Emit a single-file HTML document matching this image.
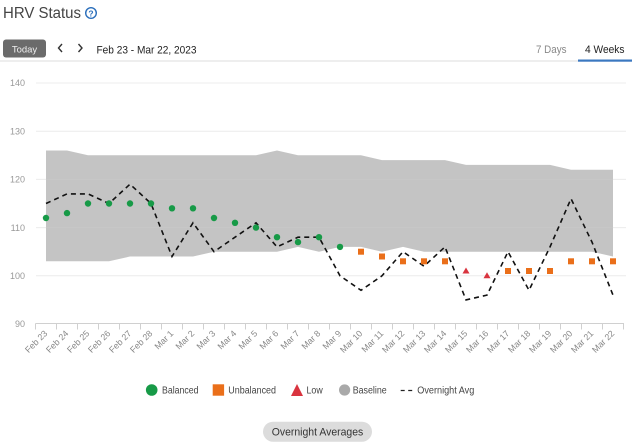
<!DOCTYPE html>
<html><head><meta charset="utf-8"><style>
html,body{margin:0;padding:0;background:#fff;}
svg{display:block;font-family:"Liberation Sans",Arial,sans-serif;}
</style></head><body>
<svg width="640" height="448" viewBox="0 0 640 448" xmlns="http://www.w3.org/2000/svg">
<rect width="640" height="448" fill="#fff"/>
<!-- header -->
<text x="3" y="18" font-size="15.5" fill="#444" textLength="78" lengthAdjust="spacingAndGlyphs">HRV Status</text>
<circle cx="91" cy="13" r="5.3" fill="none" stroke="#2a6ebb" stroke-width="1.4"/>
<text x="91" y="16.3" font-size="8.5" font-weight="bold" fill="#2a6ebb" text-anchor="middle">?</text>
<rect x="3" y="39.5" width="43" height="18" rx="3" fill="#6b6b6b"/>
<text x="24.5" y="52.5" font-size="9.5" fill="#eee" text-anchor="middle">Today</text>
<polyline points="62,44 58.5,48 62,52" fill="none" stroke="#333" stroke-width="1.4"/>
<polyline points="78.5,44 82,48 78.5,52" fill="none" stroke="#333" stroke-width="1.4"/>
<text x="96.5" y="53.3" font-size="11.2" fill="#222" textLength="100" lengthAdjust="spacingAndGlyphs">Feb 23 - Mar 22, 2023</text>
<text x="536" y="53" font-size="11" fill="#888" textLength="30.5" lengthAdjust="spacingAndGlyphs">7 Days</text>
<text x="585" y="53" font-size="11" fill="#222" textLength="39.5" lengthAdjust="spacingAndGlyphs">4 Weeks</text>
<line x1="0" y1="61" x2="632" y2="61" stroke="#dcdcdc" stroke-width="1"/>
<rect x="578" y="59.5" width="54" height="2.2" fill="#3b78c0"/>

<!-- gridlines -->
<g stroke="#ececec" stroke-width="1">
<line x1="36" y1="83" x2="626" y2="83"/>
<line x1="36" y1="131.2" x2="626" y2="131.2"/>
<line x1="36" y1="179.4" x2="626" y2="179.4"/>
<line x1="36" y1="227.6" x2="626" y2="227.6"/>
<line x1="36" y1="275.8" x2="626" y2="275.8"/>
</g>
<g font-size="9" fill="#999" text-anchor="end">
<text x="25" y="86.2">140</text>
<text x="25" y="134.4">130</text>
<text x="25" y="182.6">120</text>
<text x="25" y="230.8">110</text>
<text x="25" y="279">100</text>
<text x="25" y="327.2">90</text>
</g>

<!-- band -->
<polygon fill="#c4c4c4" points="46,150.5 67,150.5 88,155.3 109,155.3 130,155.3 151,155.3 172,155.3 193,155.3 214,155.3 235,155.3 256,155.3 277,150.5 298,155.3 319,155.3 340,155.3 361,155.3 382,160.1 403,160.1 424,160.1 445,160.1 466,164.9 487,164.9 508,164.9 529,164.9 550,164.9 571,169.8 592,169.8 613,169.8 613,256.5 592,251.7 571,251.7 550,251.7 529,251.7 508,251.7 487,251.7 466,251.7 445,251.7 424,251.7 403,246.9 382,251.7 361,246.9 340,246.9 319,251.7 298,246.9 277,251.7 256,251.7 235,251.7 214,251.7 193,256.5 172,256.5 151,256.5 130,256.5 109,261.3 88,261.3 67,261.3 46,261.3"/>
<g stroke="#cbcbcb" stroke-width="0.8" opacity="0.6">
<line x1="46" y1="179.4" x2="613" y2="179.4"/>
<line x1="46" y1="227.6" x2="613" y2="227.6"/>
</g>

<!-- axis -->
<line x1="35.5" y1="323.5" x2="624" y2="323.5" stroke="#d0d0d0" stroke-width="1"/>
<g stroke="#d0d0d0" stroke-width="1">
<line x1="35.5" y1="323.5" x2="35.5" y2="329.5"/><line x1="56.5" y1="323.5" x2="56.5" y2="329.5"/><line x1="77.5" y1="323.5" x2="77.5" y2="329.5"/><line x1="98.5" y1="323.5" x2="98.5" y2="329.5"/><line x1="119.5" y1="323.5" x2="119.5" y2="329.5"/><line x1="140.5" y1="323.5" x2="140.5" y2="329.5"/><line x1="161.5" y1="323.5" x2="161.5" y2="329.5"/><line x1="182.5" y1="323.5" x2="182.5" y2="329.5"/><line x1="203.5" y1="323.5" x2="203.5" y2="329.5"/><line x1="224.5" y1="323.5" x2="224.5" y2="329.5"/><line x1="245.5" y1="323.5" x2="245.5" y2="329.5"/><line x1="266.5" y1="323.5" x2="266.5" y2="329.5"/><line x1="287.5" y1="323.5" x2="287.5" y2="329.5"/><line x1="308.5" y1="323.5" x2="308.5" y2="329.5"/><line x1="329.5" y1="323.5" x2="329.5" y2="329.5"/><line x1="350.5" y1="323.5" x2="350.5" y2="329.5"/><line x1="371.5" y1="323.5" x2="371.5" y2="329.5"/><line x1="392.5" y1="323.5" x2="392.5" y2="329.5"/><line x1="413.5" y1="323.5" x2="413.5" y2="329.5"/><line x1="434.5" y1="323.5" x2="434.5" y2="329.5"/><line x1="455.5" y1="323.5" x2="455.5" y2="329.5"/><line x1="476.5" y1="323.5" x2="476.5" y2="329.5"/><line x1="497.5" y1="323.5" x2="497.5" y2="329.5"/><line x1="518.5" y1="323.5" x2="518.5" y2="329.5"/><line x1="539.5" y1="323.5" x2="539.5" y2="329.5"/><line x1="560.5" y1="323.5" x2="560.5" y2="329.5"/><line x1="581.5" y1="323.5" x2="581.5" y2="329.5"/><line x1="602.5" y1="323.5" x2="602.5" y2="329.5"/><line x1="623.5" y1="323.5" x2="623.5" y2="329.5"/>
</g>
<g font-size="8.8" fill="#888" text-anchor="end">
<text transform="translate(48,334) rotate(-45)">Feb 23</text>
<text transform="translate(69,334) rotate(-45)">Feb 24</text>
<text transform="translate(90,334) rotate(-45)">Feb 25</text>
<text transform="translate(111,334) rotate(-45)">Feb 26</text>
<text transform="translate(132,334) rotate(-45)">Feb 27</text>
<text transform="translate(153,334) rotate(-45)">Feb 28</text>
<text transform="translate(174,334) rotate(-45)">Mar 1</text>
<text transform="translate(195,334) rotate(-45)">Mar 2</text>
<text transform="translate(216,334) rotate(-45)">Mar 3</text>
<text transform="translate(237,334) rotate(-45)">Mar 4</text>
<text transform="translate(258,334) rotate(-45)">Mar 5</text>
<text transform="translate(279,334) rotate(-45)">Mar 6</text>
<text transform="translate(300,334) rotate(-45)">Mar 7</text>
<text transform="translate(321,334) rotate(-45)">Mar 8</text>
<text transform="translate(342,334) rotate(-45)">Mar 9</text>
<text transform="translate(363,334) rotate(-45)">Mar 10</text>
<text transform="translate(384,334) rotate(-45)">Mar 11</text>
<text transform="translate(405,334) rotate(-45)">Mar 12</text>
<text transform="translate(426,334) rotate(-45)">Mar 13</text>
<text transform="translate(447,334) rotate(-45)">Mar 14</text>
<text transform="translate(468,334) rotate(-45)">Mar 15</text>
<text transform="translate(489,334) rotate(-45)">Mar 16</text>
<text transform="translate(510,334) rotate(-45)">Mar 17</text>
<text transform="translate(531,334) rotate(-45)">Mar 18</text>
<text transform="translate(552,334) rotate(-45)">Mar 19</text>
<text transform="translate(573,334) rotate(-45)">Mar 20</text>
<text transform="translate(594,334) rotate(-45)">Mar 21</text>
<text transform="translate(615,334) rotate(-45)">Mar 22</text>
</g>

<!-- overnight avg -->
<polyline fill="none" stroke="#111" stroke-width="1.6" stroke-dasharray="5 4" points="46,203.5 67,193.9 88,193.9 109,203.5 130,184.2 151,203.5 172,256.5 193,222.8 214,251.7 235,237.2 256,222.8 277,246.9 298,237.2 319,237.2 340,275.8 361,290.3 382,275.8 403,251.7 424,266.2 445,246.9 466,299.9 487,295.1 508,251.7 529,290.3 550,246.9 571,198.7 592,242.1 613,295.1"/>

<!-- balanced -->
<g fill="#179a47">
<circle cx="46" cy="218" r="3.2"/><circle cx="67" cy="213.1" r="3.2"/><circle cx="88" cy="203.5" r="3.2"/><circle cx="109" cy="203.5" r="3.2"/><circle cx="130" cy="203.5" r="3.2"/><circle cx="151" cy="203.5" r="3.2"/><circle cx="172" cy="208.3" r="3.2"/><circle cx="193" cy="208.3" r="3.2"/><circle cx="214" cy="218" r="3.2"/><circle cx="235" cy="222.8" r="3.2"/><circle cx="256" cy="227.6" r="3.2"/><circle cx="277" cy="237.2" r="3.2"/><circle cx="298" cy="242.1" r="3.2"/><circle cx="319" cy="237.2" r="3.2"/><circle cx="340" cy="246.9" r="3.2"/>
</g>
<!-- unbalanced -->
<g fill="#ea6f1a">
<rect x="358" y="248.7" width="6" height="6"/><rect x="379" y="253.5" width="6" height="6"/><rect x="400" y="258.3" width="6" height="6"/><rect x="421" y="258.3" width="6" height="6"/><rect x="442" y="258.3" width="6" height="6"/><rect x="505" y="268" width="6" height="6"/><rect x="526" y="268" width="6" height="6"/><rect x="547" y="268" width="6" height="6"/><rect x="568" y="258.3" width="6" height="6"/><rect x="589" y="258.3" width="6" height="6"/><rect x="610" y="258.3" width="6" height="6"/>
</g>
<!-- low -->
<g fill="#d9343f">
<polygon points="466,267.5 462.5,273.5 469.5,273.5"/>
<polygon points="487,272.3 483.5,278.3 490.5,278.3"/>
</g>

<!-- legend -->
<circle cx="151.7" cy="390" r="5.8" fill="#179a47"/>
<text x="162" y="393.5" font-size="9.8" fill="#444" textLength="36.5" lengthAdjust="spacingAndGlyphs">Balanced</text>
<rect x="212.7" y="384.3" width="11.4" height="11.4" fill="#ea6f1a"/>
<text x="228.3" y="393.5" font-size="9.8" fill="#444" textLength="47.7" lengthAdjust="spacingAndGlyphs">Unbalanced</text>
<polygon points="297,384 291,396 303,396" fill="#d9343f"/>
<text x="306.5" y="393.5" font-size="9.8" fill="#444" textLength="16.2" lengthAdjust="spacingAndGlyphs">Low</text>
<circle cx="344.6" cy="390" r="5.6" fill="#a9a9a9"/>
<text x="352.7" y="393.5" font-size="9.8" fill="#444" textLength="34" lengthAdjust="spacingAndGlyphs">Baseline</text>
<line x1="400.7" y1="390.5" x2="413" y2="390.5" stroke="#222" stroke-width="1.2" stroke-dasharray="4 3.5"/>
<text x="417.3" y="393.5" font-size="9.8" fill="#444" textLength="57" lengthAdjust="spacingAndGlyphs">Overnight Avg</text>

<!-- button -->
<rect x="263" y="421.7" width="109" height="20" rx="10" fill="#dcdcdc"/>
<text x="317.5" y="435.3" font-size="10.8" fill="#333" text-anchor="middle" textLength="91.5" lengthAdjust="spacingAndGlyphs">Overnight Averages</text>
</svg>
</body></html>
